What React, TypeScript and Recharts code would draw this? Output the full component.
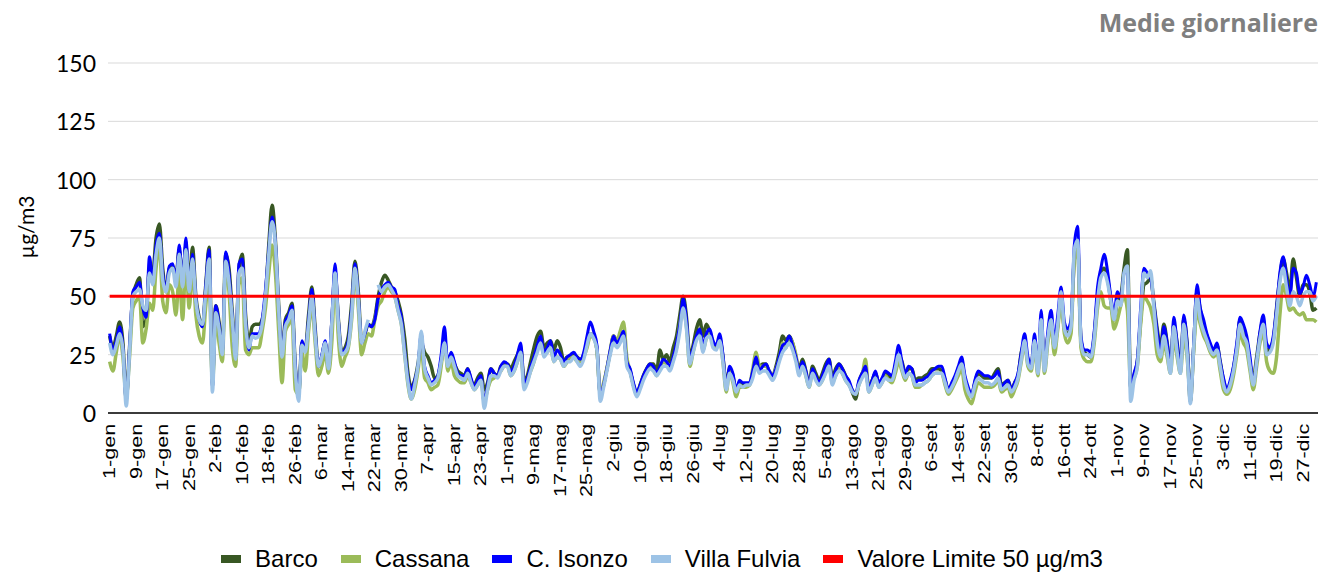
import React from 'react';
import { LineChart, Line, XAxis, YAxis, CartesianGrid, Legend } from 'recharts';

const MONTHS = ['gen', 'feb', 'mar', 'apr', 'mag', 'giu', 'lug', 'ago', 'set', 'ott', 'nov', 'dic'];
const MONTH_DAYS = [31, 28, 31, 30, 31, 30, 31, 31, 30, 31, 30, 31];
const Y_TICKS = [0, 25, 50, 75, 100, 125, 150];
const LIMIT = 50;

const ISONZO = [
  34, 27, 31, 37, 28, 5, 28, 52, 54, 56,
  45, 41, 67, 57, 72, 77, 60, 53, 63, 64,
  57, 72, 56, 75, 53, 68, 49, 40, 37, 55,
  70, 11, 46, 38, 26, 69, 60, 41, 24, 64,
  66, 40, 27, 34, 34, 34, 40, 53, 70, 84,
  73, 45, 26, 39, 42, 46, 20, 7, 31, 27,
  40, 53, 35, 20, 25, 31, 20, 40, 64, 40,
  26, 27, 31, 45, 64, 50, 30, 34, 38, 37,
  40, 49, 53, 55, 56, 54, 53, 46, 41, 27,
  15, 10, 14, 20, 34, 20, 16, 13, 14, 16,
  25, 37, 21, 26, 22, 17, 16, 16, 19, 15,
  11, 14, 16, 4, 12, 19, 17, 16, 20, 22,
  21, 18, 20, 25, 30, 13, 15, 20, 24, 29,
  33, 26, 28, 31, 24, 27, 25, 22, 24, 25,
  26, 24, 23, 26, 33, 39, 35, 29, 7, 12,
  19, 27, 33, 30, 32, 35, 22, 19, 13, 9,
  12, 16, 19, 21, 20, 17, 20, 23, 22, 20,
  24, 30, 38, 49, 40, 23, 28, 33, 36, 29,
  34, 36, 31, 29, 34, 25, 11, 20, 17, 10,
  14, 13, 13, 13, 18, 24, 18, 20, 21, 18,
  16, 19, 24, 29, 30, 33, 29, 24, 18, 22,
  18, 12, 19, 16, 13, 16, 20, 23, 14, 18,
  21, 19, 16, 14, 10, 8, 14, 17, 20, 10,
  14, 18, 13, 15, 18, 17, 16, 22, 29, 22,
  17, 20, 19, 13, 14, 14, 15, 16, 18, 19,
  20, 20, 15, 10, 13, 16, 20, 24, 16, 11,
  8, 14, 18, 17, 16, 16, 15, 16, 18, 11,
  13, 14, 10, 13, 17, 26, 34, 24, 21, 34,
  19, 44, 20, 35, 44, 31, 42, 54, 39, 36,
  40, 72, 80, 33, 27, 27, 26, 35, 54, 62,
  68, 61, 50, 43, 52, 49, 60, 62, 10, 17,
  23, 45, 62, 60, 58, 47, 35, 26, 37, 30,
  19, 41, 30, 19, 42, 30, 6, 30, 55, 45,
  40, 34, 30, 27, 30, 22, 15, 10, 14, 20,
  30, 41, 38, 33, 24, 13, 22, 35, 42, 30,
  28, 33, 45, 60, 67, 58, 49, 62, 60, 51,
  54, 59, 55, 50, 56,
];

const BARCO = [
  33, 28, 33, 39, 30, 6, 28, 50, 55, 58,
  37, 40, 62, 60, 75, 81, 62, 52, 62, 63,
  58, 70, 55, 72, 55, 71, 50, 41, 37, 55,
  71, 13, 46, 39, 27, 68, 62, 43, 25, 62,
  68, 42, 30, 37, 38, 38, 40, 50, 72, 89,
  74, 46, 26, 40, 43, 47, 20, 8, 30, 27,
  42, 54, 36, 20, 24, 30, 20, 38, 60, 40,
  26, 28, 33, 47, 65, 52, 31, 34, 38, 37,
  41, 50, 56, 59, 57, 54, 52, 48, 42, 32,
  17, 11, 14, 21, 30, 26, 24, 20, 15, 16,
  22, 30, 22, 25, 21, 18, 17, 16, 19, 14,
  12, 15, 17, 10, 13, 19, 17, 16, 20, 21,
  21, 19, 22, 25, 28, 14, 16, 22, 28, 33,
  35, 28, 30, 31, 27, 31, 28, 22, 24, 24,
  25, 24, 23, 25, 30, 34, 33, 27, 8, 12,
  19, 26, 33, 31, 31, 33, 22, 18, 12, 8,
  12, 16, 19, 21, 21, 18, 27, 23, 25, 22,
  28, 33, 42, 50, 41, 24, 29, 36, 40, 33,
  38, 35, 30, 28, 32, 24, 12, 19, 16, 9,
  13, 12, 12, 12, 17, 22, 20, 21, 21, 17,
  16, 20, 26, 33, 31, 33, 30, 24, 19, 23,
  18, 12, 20, 17, 14, 17, 21, 23, 15, 19,
  21, 19, 16, 13, 9, 6, 13, 17, 19, 11,
  14, 17, 13, 14, 17, 16, 15, 20, 25, 22,
  17, 19, 19, 14, 15, 15, 16, 17, 19, 19,
  19, 18, 14, 10, 12, 15, 19, 22, 14, 10,
  7, 13, 17, 16, 15, 15, 15, 17, 19, 12,
  13, 14, 10, 13, 16, 26, 30, 22, 20, 31,
  18, 38, 19, 33, 37, 28, 38, 50, 36, 34,
  38, 66, 72, 31, 26, 25, 24, 33, 50, 60,
  62, 58, 48, 40, 48, 50, 62, 70, 11, 16,
  22, 40, 55, 56, 58, 47, 36, 28, 38, 30,
  20, 38, 30, 19, 40, 30, 5, 28, 52, 44,
  38, 33, 29, 26, 29, 22, 14, 10, 12, 19,
  28, 40, 35, 31, 21, 15, 24, 34, 40, 26,
  28, 31, 45, 58, 66, 60, 52, 66, 58, 50,
  55, 55, 52, 44, 45,
];

const CASSANA = [
  22, 18, 26, 33, 24, 7, 24, 45, 48, 50,
  30, 36, 47, 44, 62, 72, 48, 43, 55, 52,
  42, 60, 40, 65, 45, 62, 42, 33, 30, 46,
  60, 12, 40, 30, 22, 62, 52, 28, 20, 55,
  58, 27, 25, 28, 28, 28, 35, 45, 60, 72,
  60, 35, 13, 35, 38, 40, 10, 8, 26, 18,
  35, 46, 30, 16, 20, 26, 17, 30, 58, 32,
  20, 24, 28, 40, 60, 45, 25, 30, 34, 33,
  40, 46, 48, 52, 54, 52, 50, 44, 38, 25,
  12, 6, 10, 18, 28, 15, 13, 10, 11, 12,
  20, 32, 18, 22, 16, 14, 13, 13, 16, 13,
  10, 12, 14, 5, 10, 14, 15, 16, 18, 20,
  20, 16, 18, 22, 27, 12, 14, 18, 22, 28,
  30, 25, 26, 28, 22, 24, 23, 20, 22, 24,
  24, 22, 22, 24, 28, 33, 32, 27, 8, 13,
  19, 27, 33, 31, 35, 39, 24, 18, 12, 8,
  11, 15, 18, 20, 19, 16, 19, 22, 21, 19,
  23, 28, 38, 44, 37, 20, 26, 32, 34, 27,
  32, 34, 30, 28, 32, 22, 9, 18, 13, 7,
  11, 11, 11, 12, 19, 26, 20, 20, 20, 18,
  16, 19, 23, 30, 28, 32, 30, 25, 17, 20,
  16, 11, 18, 15, 12, 14, 18, 21, 13, 16,
  19, 17, 14, 12, 10, 8, 12, 16, 23, 9,
  12, 16, 11, 13, 16, 14, 13, 17, 22, 18,
  14, 17, 16, 11, 11, 12, 13, 14, 16, 17,
  17, 17, 12, 8, 10, 13, 16, 19, 10, 6,
  4, 9, 13, 12, 11, 11, 11, 12, 14, 9,
  10, 11, 7, 10, 14, 22, 30, 20, 18, 29,
  16, 38, 17, 30, 37, 25, 36, 48, 34, 30,
  34, 66, 70, 28, 23, 22, 22, 30, 45, 52,
  46, 45, 45, 36, 40, 46, 50, 44, 12, 15,
  20, 38, 50, 48, 45, 38, 25, 22, 30, 24,
  17, 32, 24, 17, 33, 24, 8, 27, 44, 38,
  33, 30, 26, 24, 26, 18, 10, 8, 10, 16,
  25, 34, 30, 27, 18, 10, 20, 30, 34, 22,
  18, 17, 24, 42, 55, 50, 44, 45, 43, 42,
  43, 40, 40, 40, 39,
];

const FULVIA = [
  30, 25, 29, 34, 27, 3, 26, 50, 52, 53,
  46, 44, 60, 55, 68, 75, 57, 52, 60, 62,
  54, 68, 54, 70, 52, 66, 48, 40, 38, 52,
  66, 9, 43, 36, 25, 65, 56, 40, 23, 60,
  62, 38, 28, 33, 32, 33, 38, 50, 68, 82,
  72, 44, 24, 37, 40, 44, 18, 5, 29, 26,
  38, 50, 33, 20, 24, 30, 19, 38, 60, 38,
  25, 26, 29, 42, 62, 48, 30, 35, 40, null,
  null, 55, 52, 54, 55, 53, 50, 44, 38, 25,
  13, 6, 12, 20, 35, 19, 15, 12, 13, 15,
  22, 30, 20, 24, 20, 16, 15, 14, 17, 13,
  10, 12, 14, 2, 10, 16, 16, 15, 18, 20,
  20, 16, 18, 22, 26, 10, 13, 18, 22, 26,
  30, 24, 26, 28, 22, 24, 23, 20, 22, 22,
  24, 22, 20, 23, 29, 34, 32, 27, 5, 11,
  18, 25, 30, 28, 30, 33, 20, 17, 11, 7,
  10, 14, 17, 19, 18, 16, 18, 20, 20, 18,
  22, 27, 35, 45, 36, 21, 26, 31, 33, 26,
  32, 33, 28, 27, 31, 22, 10, 17, 14, 9,
  12, 11, 12, 12, 15, 20, 17, 18, 18, 16,
  14, 17, 22, 26, 28, 30, 27, 22, 16, 20,
  16, 11, 17, 14, 12, 14, 17, 20, 12, 16,
  18, 17, 14, 12, 9, 8, 12, 15, 17, 9,
  12, 15, 11, 13, 15, 14, 14, 19, 25, 19,
  15, 17, 16, 12, 12, 12, 13, 14, 16, 17,
  17, 17, 13, 9, 11, 14, 18, 21, 14, 9,
  7, 12, 15, 14, 13, 13, 12, 13, 15, 10,
  11, 12, 9, 11, 15, 23, 31, 21, 19, 31,
  17, 40, 18, 32, 40, 28, 38, 52, 36, 33,
  37, 70, 74, 30, 25, 25, 24, 32, 48, 58,
  60, 56, 48, 40, 48, 46, 60, 63, 5, 14,
  20, 42, 60, 58, 61, 45, 30, 24, 33, 26,
  17, 37, 26, 17, 38, 26, 4, 28, 50, 40,
  35, 31, 27, 25, 27, 20, 12, 9, 12, 18,
  27, 38, 33, 30, 20, 12, 22, 32, 38, 25,
  26, 30, 42, 56, 62, 54, 46, 52, 50, 46,
  50, 52, 52, 48, 50,
];

const SERIES = [
  { key: 'barco', name: 'Barco', color: '#385723', width: 3.5 },
  { key: 'cassana', name: 'Cassana', color: '#9BBB59', width: 3.5 },
  { key: 'isonzo', name: 'C. Isonzo', color: '#0000FF', width: 3 },
  { key: 'fulvia', name: 'Villa Fulvia', color: '#9DC3E6', width: 3.5 },
  { key: 'limite', name: 'Valore Limite 50 µg/m3', color: '#FF0000', width: 3 },
];

const LABELS: string[] = [];
MONTHS.forEach((m, i) => {
  for (let d = 1; d <= MONTH_DAYS[i]; d++) LABELS.push(`${d}-${m}`);
});

const DATA = LABELS.map((label, i) => ({
  label,
  barco: BARCO[i],
  cassana: CASSANA[i],
  isonzo: ISONZO[i],
  fulvia: FULVIA[i],
  limite: LIMIT,
}));

const XTick = (props: any) => {
  const { x, y, payload } = props;
  return (
    <g transform={`translate(${x},${y})`}>
      <text
        transform="rotate(-90) scale(1.35,1)"
        x={-8}
        y={0}
        textAnchor="end"
        dominantBaseline="central"
        fontSize={16}
        fontFamily="'Liberation Sans', Arial, sans-serif"
        fill="#000"
      >
        {payload.value}
      </text>
    </g>
  );
};

const YTick = (props: any) => {
  const { x, y, payload } = props;
  return (
    <text
      x={x}
      y={y}
      textAnchor="end"
      dominantBaseline="central"
      fontSize={23}
      fontFamily="Lato, 'Open Sans', sans-serif"
      fill="#000"
    >
      {payload.value}
    </text>
  );
};

const LegendContent = () => (
  <div
    style={{
      display: 'flex',
      justifyContent: 'center',
      alignItems: 'center',
      gap: 23,
      fontFamily: "'Liberation Sans', Arial, sans-serif",
      fontSize: 24,
      lineHeight: '26px',
      color: '#000',
      height: 26,
      marginTop: 4,
      paddingLeft: 6,
    }}
  >
    {SERIES.map((s) => (
      <div key={s.key} style={{ display: 'flex', alignItems: 'center' }}>
        <span style={{ display: 'inline-block', width: 20, height: 8, background: s.color, marginRight: 14 }} />
        <span>{s.name}</span>
      </div>
    ))}
  </div>
);

export default function App() {
  return (
    <div style={{ position: 'absolute', left: 0, top: 0, width: 1321, height: 572, background: '#fff' }}>
      <div
        style={{
          position: 'absolute',
          right: 3,
          top: 5,
          fontFamily: "'Open Sans', sans-serif",
          fontWeight: 700,
          fontSize: 25,
          lineHeight: 'normal',
          color: '#7F7F7F',
          zIndex: 2,
        }}
      >
        Medie giornaliere
      </div>
      <LineChart width={1321} height={572} data={DATA} margin={{ top: 63, right: 3, bottom: 0, left: 0 }}>
        <CartesianGrid vertical={false} stroke="#D9D9D9" strokeWidth={1} />
        <XAxis
          dataKey="label"
          interval={7}
          tickLine={false}
          tickSize={0}
          tickMargin={0}
          axisLine={{ stroke: '#000', strokeWidth: 1.5 }}
          height={129}
          padding={{ left: 1.66, right: 1.66 }}
          tick={<XTick />}
        />
        <YAxis
          domain={[0, 150]}
          ticks={Y_TICKS}
          width={108}
          axisLine={false}
          tickLine={false}
          tickMargin={6}
          tick={<YTick />}
          label={{
            content: () => (
              <text
                x={25}
                y={227}
                transform="rotate(-90 25 227)"
                textAnchor="middle"
                dominantBaseline="central"
                fontSize={21}
                fontFamily="Lato, sans-serif"
                fill="#000"
              >
                µg/m3
              </text>
            ),
          }}
        />
        <Legend verticalAlign="bottom" height={30} content={<LegendContent />} />
        {SERIES.map((s) => (
          <Line
            key={s.key}
            type="monotone"
            dataKey={s.key}
            name={s.name}
            stroke={s.color}
            strokeWidth={s.width}
            dot={false}
            activeDot={false}
            isAnimationActive={false}
          />
        ))}
      </LineChart>
    </div>
  );
}
